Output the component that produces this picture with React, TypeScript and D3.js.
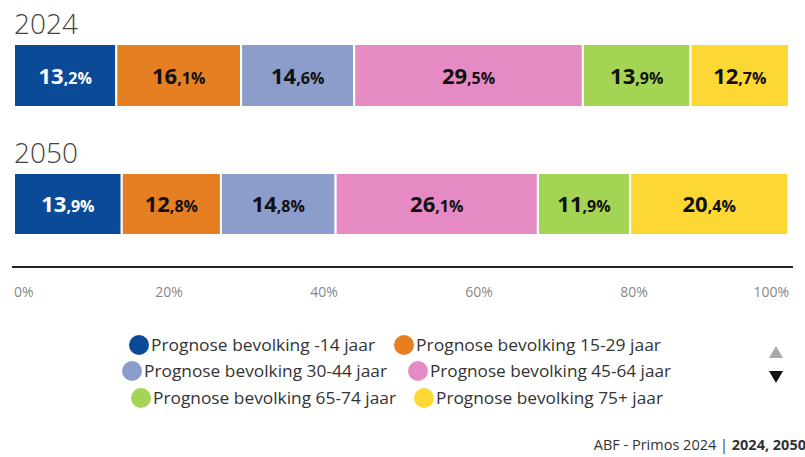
import React from "react";
import * as d3 from "d3";

const YEARS = ["2024", "2050"];
const GROUPS = [
  "Prognose bevolking -14 jaar",
  "Prognose bevolking 15-29 jaar",
  "Prognose bevolking 30-44 jaar",
  "Prognose bevolking 45-64 jaar",
  "Prognose bevolking 65-74 jaar",
  "Prognose bevolking 75+ jaar",
];
const VALUES_2024 = [13.2, 16.1, 14.6, 29.5, 13.9, 12.7];
const VALUES_2050 = [13.9, 12.8, 14.8, 26.1, 11.9, 20.4];
const COLORS = ["#0b4a96", "#e67e22", "#8c9dcc", "#e68ac4", "#a3d453", "#fdd835"];
const TICKS = [0, 20, 40, 60, 80, 100];

const W = 805;
const H = 457;
const FONT = "'Open Sans', sans-serif";

// legend: circle centre and text width per entry
const LEGEND_POS = [
  [139, 345, 224], [404, 345, 245],
  [132, 371, 243], [418, 371, 241],
  [141, 398, 243], [424, 398, 227],
];

export default function App() {
  const x = d3.scaleLinear().domain([0, 100]).range([14, 789]);
  const rows = [
    {year: YEARS[0], values: VALUES_2024, top: 44, h: 63, titleY: 34},
    {year: YEARS[1], values: VALUES_2050, top: 173, h: 62, titleY: 163},
  ];

  const fmt = (v: number) => {
    const [a, b] = v.toFixed(1).split(".");
    return {a, b: "," + b + "%"};
  };

  return (
    <svg width={W} height={H} style={{position: "absolute", left: 0, top: 0, fontFamily: FONT}}>
      <rect width={W} height={H} fill="#fff"/>
      {rows.map((r) => {
        const stack = d3.cumsum(r.values);
        return (
          <g key={r.year}>
            <text x={14} y={r.titleY} fontSize={28} fill="#444" fontWeight={300}>{r.year}</text>
            {r.values.map((v, i) => {
              const x0 = x(i === 0 ? 0 : stack[i - 1]);
              const x1 = x(stack[i]);
              const f = fmt(v);
              return (
                <g key={i}>
                  <rect x={x0} y={r.top} width={x1 - x0} height={r.h} fill={COLORS[i]}
                        stroke="#fff" strokeWidth={2}/>
                  <text x={(x0 + x1) / 2} y={r.top + r.h / 2 + 8} textAnchor="middle"
                        fill={i === 0 ? "#fff" : "#111"} fontWeight={700}>
                    <tspan fontSize={22}>{f.a}</tspan>
                    <tspan fontSize={16}>{f.b}</tspan>
                  </text>
                </g>
              );
            })}
          </g>
        );
      })}

      <line x1={12} x2={793} y1={267} y2={267} stroke="#222" strokeWidth={2}/>
      {TICKS.map((t, i) => (
        <text key={t} x={i === 0 ? 14 : i === TICKS.length - 1 ? 789 : x(t)} y={297}
              textAnchor={i === 0 ? "start" : i === TICKS.length - 1 ? "end" : "middle"}
              fontSize={14} fill="#888">{t}%</text>
      ))}

      {GROUPS.map((g, i) => (
        <g key={g}>
          <circle cx={LEGEND_POS[i][0]} cy={LEGEND_POS[i][1]} r={10} fill={COLORS[i]}/>
          <text x={LEGEND_POS[i][0] + 12} y={LEGEND_POS[i][1] + 6} fontSize={17} fill="#333"
                textLength={LEGEND_POS[i][2]} lengthAdjust="spacingAndGlyphs">{g}</text>
        </g>
      ))}

      <path d="M776,346 l7,12 h-14 z" fill="#aaa"/>
      <path d="M776,383 l7,-12 h-14 z" fill="#111"/>

      <text x={806} y={450} textAnchor="end" fontSize={14.5} fill="#333">
        ABF - Primos 2024 | <tspan fontWeight={700}>2024, 2050</tspan>
      </text>
    </svg>
  );
}
